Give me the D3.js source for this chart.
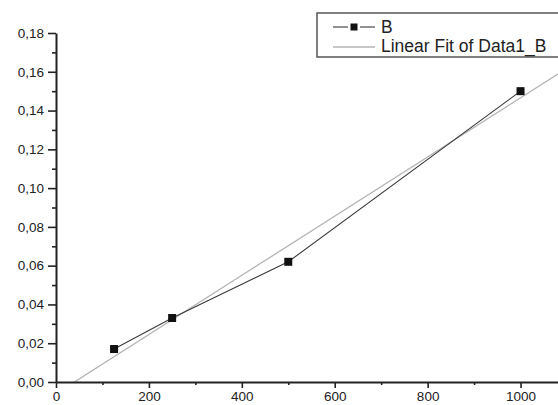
<!DOCTYPE html>
<html>
<head>
<meta charset="utf-8">
<script src="https://cdn.jsdelivr.net/npm/d3@7"></script>
<style>
  body { margin: 0; background: #fff; }
  svg { display: block; font-family: "Liberation Sans", Arial, sans-serif; }
</style>
</head>
<body>
<div id="chart"></div>
<script>
// data
var concentration = [125, 250, 500, 1000];
var absorbance = [0.017, 0.033, 0.062, 0.150];

var xTicks = [0, 200, 400, 600, 800, 1000];
var xMinorTicks = [100, 300, 500, 700, 900, 1100];
var yTicks = [0, 0.02, 0.04, 0.06, 0.08, 0.10, 0.12, 0.14, 0.16, 0.18];
var yMinorTicks = [0.01, 0.03, 0.05, 0.07, 0.09, 0.11, 0.13, 0.15, 0.17];

var legendLabels = ["B", "Linear Fit of Data1_B"];

var svgWidth = 558;
var svgHeight = 405;

var svg = d3.select("#chart")
  .append("svg")
  .attr("width", svgWidth)
  .attr("height", svgHeight);

// chart is cropped on the right, so the x range runs past the edge
var xScale = d3.scaleLinear().domain([0, 1100]).range([56, 567]);
var yScale = d3.scaleLinear().domain([0, 0.18]).range([382, 33]);

svg.append("clipPath")
  .attr("id", "plotClip")
  .append("rect")
  .attr("x", 56)
  .attr("y", 33)
  .attr("width", 511)
  .attr("height", 349);

// least squares fit of the data
var meanX = d3.mean(concentration);
var meanY = d3.mean(absorbance);
var sxy = d3.sum(concentration, (d, i) => (d - meanX) * (absorbance[i] - meanY));
var sxx = d3.sum(concentration, d => (d - meanX) * (d - meanX));
var slope = sxy / sxx;
var intercept = meanY - slope * meanX;
var fitX = xScale.domain();

var plot = svg.append("g").attr("clip-path", "url(#plotClip)");

plot.append("line")
  .attr("x1", xScale(fitX[0]))
  .attr("y1", yScale(intercept + slope * fitX[0]))
  .attr("x2", xScale(fitX[1]))
  .attr("y2", yScale(intercept + slope * fitX[1]))
  .attr("stroke", "#b4b4b4")
  .attr("stroke-width", 1.3);

var points = concentration.map((d, i) => [d, absorbance[i]]);

plot.append("path")
  .datum(points)
  .attr("fill", "none")
  .attr("stroke", "#3a3a3a")
  .attr("stroke-width", 1.1)
  .attr("d", d3.line().x(d => xScale(d[0])).y(d => yScale(d[1])));

plot.selectAll(".marker")
  .data(points)
  .enter()
  .append("rect")
  .attr("class", "marker")
  .attr("x", d => xScale(d[0]) - 4)
  .attr("y", d => yScale(d[1]) - 4)
  .attr("width", 8)
  .attr("height", 8)
  .attr("fill", "#111");

// axes
var commaFormat = d => d3.format(".2f")(d).replace(".", ",");

var yAxis = svg.append("g")
  .attr("transform", "translate(56,0)")
  .call(d3.axisLeft(yScale).tickValues(yTicks).tickFormat(commaFormat)
    .tickSize(8).tickSizeOuter(0).tickPadding(4));

svg.append("g")
  .attr("transform", "translate(56,0)")
  .call(d3.axisLeft(yScale).tickValues(yMinorTicks).tickFormat("")
    .tickSize(4).tickSizeOuter(0))
  .select(".domain").remove();

var xAxis = svg.append("g")
  .attr("transform", "translate(0,382)")
  .call(d3.axisBottom(xScale).tickValues(xTicks).tickFormat(d3.format("d"))
    .tickSize(6).tickSizeOuter(0).tickPadding(3));

svg.append("g")
  .attr("transform", "translate(0,382)")
  .call(d3.axisBottom(xScale).tickValues(xMinorTicks).tickFormat("")
    .tickSize(3).tickSizeOuter(0))
  .select(".domain").remove();

svg.selectAll(".domain")
  .attr("stroke", "#222")
  .attr("stroke-width", 2);
svg.selectAll(".tick line")
  .attr("stroke", "#222")
  .attr("stroke-width", 1.6);

yAxis.selectAll("text")
  .attr("font-size", "13.5px")
  .attr("fill", "#222");
xAxis.selectAll("text")
  .attr("font-size", "13.5px")
  .attr("fill", "#222");

// legend
var legend = svg.append("g");

legend.append("rect")
  .attr("x", 317)
  .attr("y", 13)
  .attr("width", 300)
  .attr("height", 44)
  .attr("fill", "#fff")
  .attr("stroke", "#555")
  .attr("stroke-width", 1.5);

legend.append("line")
  .attr("x1", 333).attr("x2", 348)
  .attr("y1", 27).attr("y2", 27)
  .attr("stroke", "#3a3a3a")
  .attr("stroke-width", 1.1);

legend.append("line")
  .attr("x1", 360).attr("x2", 375)
  .attr("y1", 27).attr("y2", 27)
  .attr("stroke", "#3a3a3a")
  .attr("stroke-width", 1.1);

legend.append("rect")
  .attr("x", 350.5).attr("y", 23.5)
  .attr("width", 7).attr("height", 7)
  .attr("fill", "#111");

legend.append("line")
  .attr("x1", 333).attr("x2", 375)
  .attr("y1", 47).attr("y2", 47)
  .attr("stroke", "#b4b4b4")
  .attr("stroke-width", 1.3);

legend.selectAll(".legend-label")
  .data(legendLabels)
  .enter()
  .append("text")
  .attr("class", "legend-label")
  .attr("x", 381)
  .attr("y", (d, i) => 32.5 + i * 19)
  .attr("font-size", "17.5px")
  .attr("fill", "#222")
  .text(d => d);
</script>
</body>
</html>
